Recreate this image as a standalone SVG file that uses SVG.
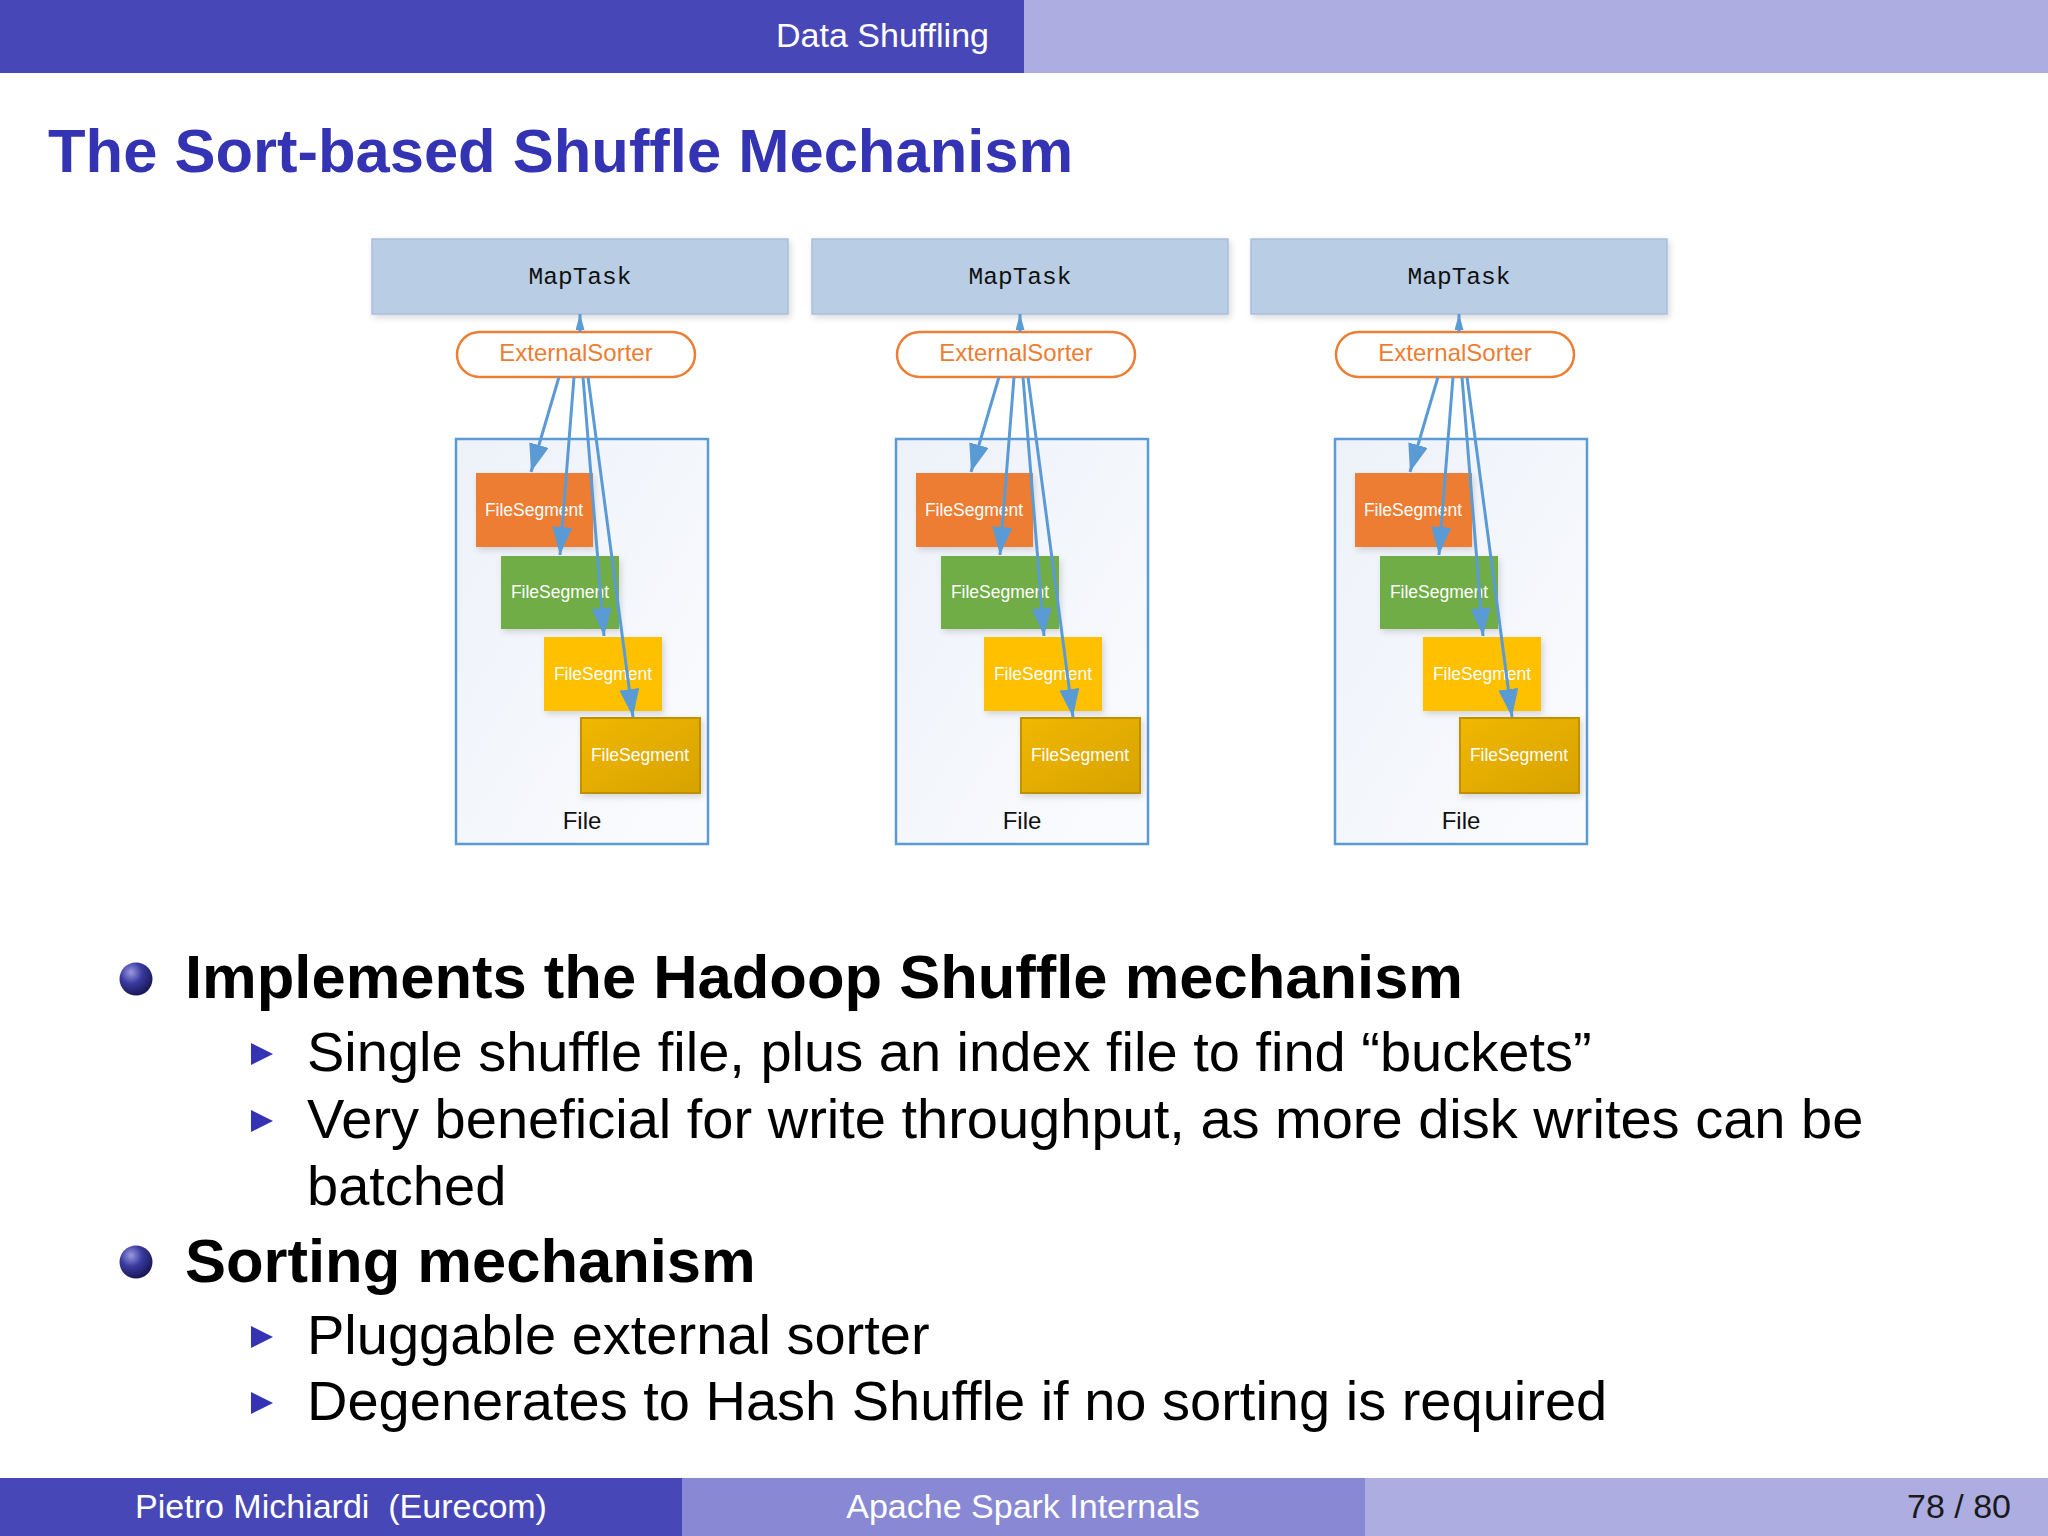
<svg xmlns="http://www.w3.org/2000/svg" width="2048" height="1536" viewBox="0 0 2048 1536">
<style>
.sans{font-family:"Liberation Sans",Arial,sans-serif}
.mono{font-family:"Liberation Mono","DejaVu Sans Mono",monospace}
.maptask{fill:#B9CDE5;stroke:#A9BFDC;stroke-width:1.5}
.mtlabel{font-size:24.5px;fill:#111;text-anchor:middle}
.sorter{fill:#fff;stroke:#ED7D31;stroke-width:2.5}
.sortlabel{font-size:24px;fill:#ED7D31;text-anchor:middle}
.filebox{fill:url(#fileGrad);stroke:#5B9BD5;stroke-width:2.5}
.filelabel{font-size:24px;fill:#111;text-anchor:middle}
.seglabel{font-size:17.5px;fill:#fff;text-anchor:middle}
.conn{stroke:#5B9BD5;stroke-width:3;fill:none}
.conn-big{marker-end:url(#ah)}
.conn-small{marker-end:url(#ahs)}
.bullet-main{font-size:61.5px;font-weight:bold;fill:#000}
.bullet-sub{font-size:56px;fill:#000}
.tri{fill:#3333B3}
</style>
<defs>
<linearGradient id="fileGrad" x1="0" y1="0" x2="1" y2="1">
<stop offset="0" stop-color="#EDF1F9"/>
<stop offset="1" stop-color="#FBFCFE"/>
</linearGradient>
<linearGradient id="goldGrad" x1="0" y1="0" x2="1" y2="1">
<stop offset="0" stop-color="#F0B800"/>
<stop offset="1" stop-color="#D8A200"/>
</linearGradient>
<radialGradient id="ball" cx="0.35" cy="0.3" r="0.75">
<stop offset="0" stop-color="#9A9AE0"/>
<stop offset="0.45" stop-color="#3A3AA0"/>
<stop offset="1" stop-color="#151550"/>
</radialGradient>
<filter id="shadow" x="-10%" y="-10%" width="130%" height="140%">
<feDropShadow dx="2" dy="3" stdDeviation="3" flood-color="#000" flood-opacity="0.15"/>
</filter>
<marker id="ah" markerUnits="userSpaceOnUse" markerWidth="28" markerHeight="20" refX="28" refY="10" orient="auto">
<path d="M0,0 L28,10 L0,20 z" fill="#5B9BD5"/>
</marker>
<marker id="ahs" markerUnits="userSpaceOnUse" markerWidth="16" markerHeight="9" refX="16" refY="4.5" orient="auto">
<path d="M0,0 L16,4.5 L0,9 z" fill="#5B9BD5"/>
</marker>
</defs>

<rect x="0" y="0" width="2048" height="1536" fill="#fff"/>

<!-- header -->
<g id="header">
<rect x="0" y="0" width="1024" height="73" fill="#4747B8"/>
<rect x="1024" y="0" width="1024" height="73" fill="#ADADE2"/>
<text class="sans" x="989" y="47" font-size="34" fill="#fff" text-anchor="end">Data Shuffling</text>
</g>

<text class="sans" x="48" y="172" font-size="61.5" font-weight="bold" fill="#3333B3">The Sort-based Shuffle Mechanism</text>

<!-- panel 1 -->
<g id="panel-1">
<g id="maptask-1"><rect class="maptask" x="372" y="239" width="416" height="75" filter="url(#shadow)"/><text class="mono mtlabel" x="580" y="284">MapTask</text></g>
<g id="sorter-1"><rect class="sorter" x="457" y="332" width="238" height="45" rx="22.5"/><text class="sans sortlabel" x="576" y="361">ExternalSorter</text></g>
<g id="file-1"><rect class="filebox" x="456" y="439" width="252" height="405"/><text class="sans filelabel" x="582" y="829">File</text></g>
<g id="seg-1-1"><rect x="476" y="473" width="117" height="74" fill="#ED7D31" filter="url(#shadow)"/><text class="sans seglabel" x="534" y="516">FileSegment</text></g>
<g id="seg-1-2"><rect x="501" y="556" width="118" height="73" fill="#70AD47" filter="url(#shadow)"/><text class="sans seglabel" x="560" y="598">FileSegment</text></g>
<g id="seg-1-3"><rect x="544" y="637" width="118" height="74" fill="#FFC000" filter="url(#shadow)"/><text class="sans seglabel" x="603" y="680">FileSegment</text></g>
<g id="seg-1-4"><rect x="581" y="718" width="119" height="75" fill="url(#goldGrad)" stroke="#BF9000" stroke-width="2" filter="url(#shadow)"/><text class="sans seglabel" x="640" y="761">FileSegment</text></g>
</g>

<!-- panel 2 -->
<g id="panel-2" transform="translate(440,0)">
<g id="maptask-2"><rect class="maptask" x="372" y="239" width="416" height="75" filter="url(#shadow)"/><text class="mono mtlabel" x="580" y="284">MapTask</text></g>
<g id="sorter-2"><rect class="sorter" x="457" y="332" width="238" height="45" rx="22.5"/><text class="sans sortlabel" x="576" y="361">ExternalSorter</text></g>
<g id="file-2"><rect class="filebox" x="456" y="439" width="252" height="405"/><text class="sans filelabel" x="582" y="829">File</text></g>
<g id="seg-2-1"><rect x="476" y="473" width="117" height="74" fill="#ED7D31" filter="url(#shadow)"/><text class="sans seglabel" x="534" y="516">FileSegment</text></g>
<g id="seg-2-2"><rect x="501" y="556" width="118" height="73" fill="#70AD47" filter="url(#shadow)"/><text class="sans seglabel" x="560" y="598">FileSegment</text></g>
<g id="seg-2-3"><rect x="544" y="637" width="118" height="74" fill="#FFC000" filter="url(#shadow)"/><text class="sans seglabel" x="603" y="680">FileSegment</text></g>
<g id="seg-2-4"><rect x="581" y="718" width="119" height="75" fill="url(#goldGrad)" stroke="#BF9000" stroke-width="2" filter="url(#shadow)"/><text class="sans seglabel" x="640" y="761">FileSegment</text></g>
</g>

<!-- panel 3 -->
<g id="panel-3" transform="translate(879,0)">
<g id="maptask-3"><rect class="maptask" x="372" y="239" width="416" height="75" filter="url(#shadow)"/><text class="mono mtlabel" x="580" y="284">MapTask</text></g>
<g id="sorter-3"><rect class="sorter" x="457" y="332" width="238" height="45" rx="22.5"/><text class="sans sortlabel" x="576" y="361">ExternalSorter</text></g>
<g id="file-3"><rect class="filebox" x="456" y="439" width="252" height="405"/><text class="sans filelabel" x="582" y="829">File</text></g>
<g id="seg-3-1"><rect x="476" y="473" width="117" height="74" fill="#ED7D31" filter="url(#shadow)"/><text class="sans seglabel" x="534" y="516">FileSegment</text></g>
<g id="seg-3-2"><rect x="501" y="556" width="118" height="73" fill="#70AD47" filter="url(#shadow)"/><text class="sans seglabel" x="560" y="598">FileSegment</text></g>
<g id="seg-3-3"><rect x="544" y="637" width="118" height="74" fill="#FFC000" filter="url(#shadow)"/><text class="sans seglabel" x="603" y="680">FileSegment</text></g>
<g id="seg-3-4"><rect x="581" y="718" width="119" height="75" fill="url(#goldGrad)" stroke="#BF9000" stroke-width="2" filter="url(#shadow)"/><text class="sans seglabel" x="640" y="761">FileSegment</text></g>
</g>

<!-- connectors -->
<g id="connectors">
<g transform="translate(0,0)">
<line class="conn conn-small" x1="580" y1="332" x2="580" y2="314"/>
<line class="conn conn-big" x1="559" y1="377" x2="531" y2="472"/>
<line class="conn conn-big" x1="574" y1="377" x2="560" y2="555"/>
<line class="conn conn-big" x1="583" y1="377" x2="604" y2="636"/>
<line class="conn conn-big" x1="588" y1="377" x2="633" y2="717"/>
</g>
<g transform="translate(440,0)">
<line class="conn conn-small" x1="580" y1="332" x2="580" y2="314"/>
<line class="conn conn-big" x1="559" y1="377" x2="531" y2="472"/>
<line class="conn conn-big" x1="574" y1="377" x2="560" y2="555"/>
<line class="conn conn-big" x1="583" y1="377" x2="604" y2="636"/>
<line class="conn conn-big" x1="588" y1="377" x2="633" y2="717"/>
</g>
<g transform="translate(879,0)">
<line class="conn conn-small" x1="580" y1="332" x2="580" y2="314"/>
<line class="conn conn-big" x1="559" y1="377" x2="531" y2="472"/>
<line class="conn conn-big" x1="574" y1="377" x2="560" y2="555"/>
<line class="conn conn-big" x1="583" y1="377" x2="604" y2="636"/>
<line class="conn conn-big" x1="588" y1="377" x2="633" y2="717"/>
</g>
</g>

<!-- bullets -->
<g id="bullets">
<circle cx="136" cy="979" r="16.5" fill="url(#ball)"/>
<text class="sans bullet-main" x="185" y="998">Implements the Hadoop Shuffle mechanism</text>
<polygon class="tri" points="251,1043 273,1054 251,1065"/>
<text class="sans bullet-sub" x="307" y="1071">Single shuffle file, plus an index file to find “buckets”</text>
<polygon class="tri" points="251,1110 273,1121 251,1132"/>
<text class="sans bullet-sub" x="307" y="1138">Very beneficial for write throughput, as more disk writes can be</text>
<text class="sans bullet-sub" x="307" y="1205">batched</text>
<circle cx="136" cy="1262" r="16.5" fill="url(#ball)"/>
<text class="sans bullet-main" x="185" y="1282">Sorting mechanism</text>
<polygon class="tri" points="251,1326 273,1337 251,1348"/>
<text class="sans bullet-sub" x="307" y="1354">Pluggable external sorter</text>
<polygon class="tri" points="251,1392 273,1403 251,1414"/>
<text class="sans bullet-sub" x="307" y="1420">Degenerates to Hash Shuffle if no sorting is required</text>
</g>

<!-- footer -->
<g id="footer">
<rect x="0" y="1478" width="682" height="58" fill="#4747B8"/>
<rect x="682" y="1478" width="683" height="58" fill="#8888D5"/>
<rect x="1365" y="1478" width="683" height="58" fill="#ADADE2"/>
<text class="sans" x="341" y="1518" font-size="34" fill="#fff" text-anchor="middle">Pietro Michiardi&#160; (Eurecom)</text>
<text class="sans" x="1023" y="1518" font-size="34" fill="#fff" text-anchor="middle">Apache Spark Internals</text>
<text class="sans" x="2011" y="1518" font-size="34" fill="#1a1a1a" text-anchor="end">78 / 80</text>
</g>
</svg>
